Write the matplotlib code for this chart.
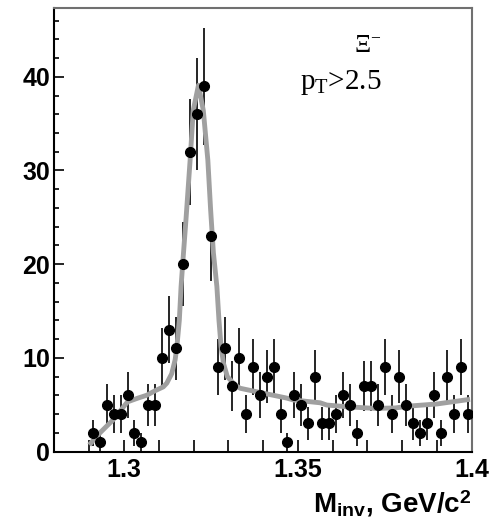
import numpy as np
import matplotlib.pyplot as plt

plt.rcParams['font.family'] = ['Liberation Sans', 'DejaVu Sans']
plt.rcParams['mathtext.fontset'] = 'custom'
plt.rcParams['mathtext.rm'] = 'Liberation Serif'
plt.rcParams['mathtext.it'] = 'Liberation Serif:italic'
plt.rcParams['mathtext.bf'] = 'Liberation Sans:bold'

# invariant mass histogram, 2 MeV bins
bin_centers = np.round(np.arange(1.291, 1.4, 0.002), 3)
counts = [2, 1, 5, 4, 4, 6, 2, 1, 5, 5,
          10, 13, 11, 20, 32, 36, 39, 23, 9, 11,
          7, 10, 4, 9, 6, 8, 9, 4, 1, 6,
          5, 3, 8, 3, 3, 4, 6, 5, 2, 7,
          7, 5, 9, 4, 8, 5, 3, 2, 3, 6,
          2, 8, 4, 9, 4]
errors = np.sqrt(counts)

# fit curve (signal + background)
fit_x = [1.2900, 1.2931, 1.2969, 1.3010, 1.3040, 1.3065, 1.3090, 1.3113,
         1.3123, 1.3137, 1.3147, 1.3152, 1.3159, 1.3164, 1.3171, 1.3178,
         1.3190, 1.3199, 1.3214, 1.3228, 1.3241, 1.3249, 1.3257, 1.3267,
         1.3273, 1.3279, 1.3286, 1.3297, 1.3319, 1.3334, 1.3391, 1.3468,
         1.3487, 1.3564, 1.3583, 1.3640, 1.3722, 1.3780, 1.3823, 1.3899,
         1.3995]
fit_y = [0.7, 2.0, 3.4, 5.3, 5.7, 6.0, 6.5, 6.9,
         7.3, 8.3, 9.8, 11.2, 14.0, 17.6, 21.2, 24.7,
         31.1, 36.4, 39.1, 36.4, 31.1, 25.8, 21.2, 17.6,
         14.0, 11.2, 9.4, 8.0, 7.1, 6.75, 6.3, 5.7,
         5.5, 5.2, 4.96, 4.78, 4.6, 4.65, 4.86, 5.07,
         5.57]

fig = plt.figure(figsize=(4.93, 5.25), dpi=100)
ax = fig.add_axes([0.1105, 0.14, 0.8465, 0.844])

ax.errorbar(bin_centers, counts, yerr=errors, fmt='none', ecolor='black',
            elinewidth=1.2, capsize=0, zorder=2)
ax.plot(fit_x, fit_y, color='#a0a0a0', lw=3.5, zorder=3, solid_joinstyle='round',
        solid_capstyle='butt')
ax.plot(bin_centers, counts, 'o', color='black', ms=7, zorder=4)

ax.set_xlim(1.28, 1.4)
ax.set_ylim(0, 47.3)

ax.set_xticks([1.3, 1.35, 1.4])
ax.set_xticklabels(['1.3', '1.35', '1.4'])
ax.set_xticks(np.arange(1.29, 1.4, 0.01), minor=True)
ax.set_yticks([0, 10, 20, 30, 40])
ax.set_yticks(np.arange(0, 47, 2), minor=True)

ax.tick_params(axis='both', which='both', direction='in', top=False, right=False,
               width=1.2, color='black')
ax.tick_params(axis='x', which='major', length=9, pad=5, labelsize=18)
ax.tick_params(axis='x', which='minor', length=9)
ax.tick_params(axis='y', which='major', length=7, pad=3, labelsize=18)
ax.tick_params(axis='y', which='minor', length=3.5)
for lab in ax.get_xticklabels() + ax.get_yticklabels():
    lab.set_fontweight('bold')

for side in ['bottom', 'left']:
    ax.spines[side].set_color('black')
    ax.spines[side].set_linewidth(1.5)
for side in ['top', 'right']:
    ax.spines[side].set_color('#707070')
    ax.spines[side].set_linewidth(1.5)

ax.text(1.3660, 43.4, r'$\Xi^{-}$', fontsize=18, ha='left', va='center')
ax.text(1.3505, 39.4, r'$\mathrm{p_{T}}$>2.5', fontsize=21,
        family='Liberation Serif', ha='left', va='center')

fig.text(0.957, 0.012, r'$\mathbf{M_{inv}}$, GeV/c$^{\mathbf{2}}$', fontsize=20,
         fontweight='bold', ha='right', va='bottom')

fig.savefig('out.png', dpi=100)
